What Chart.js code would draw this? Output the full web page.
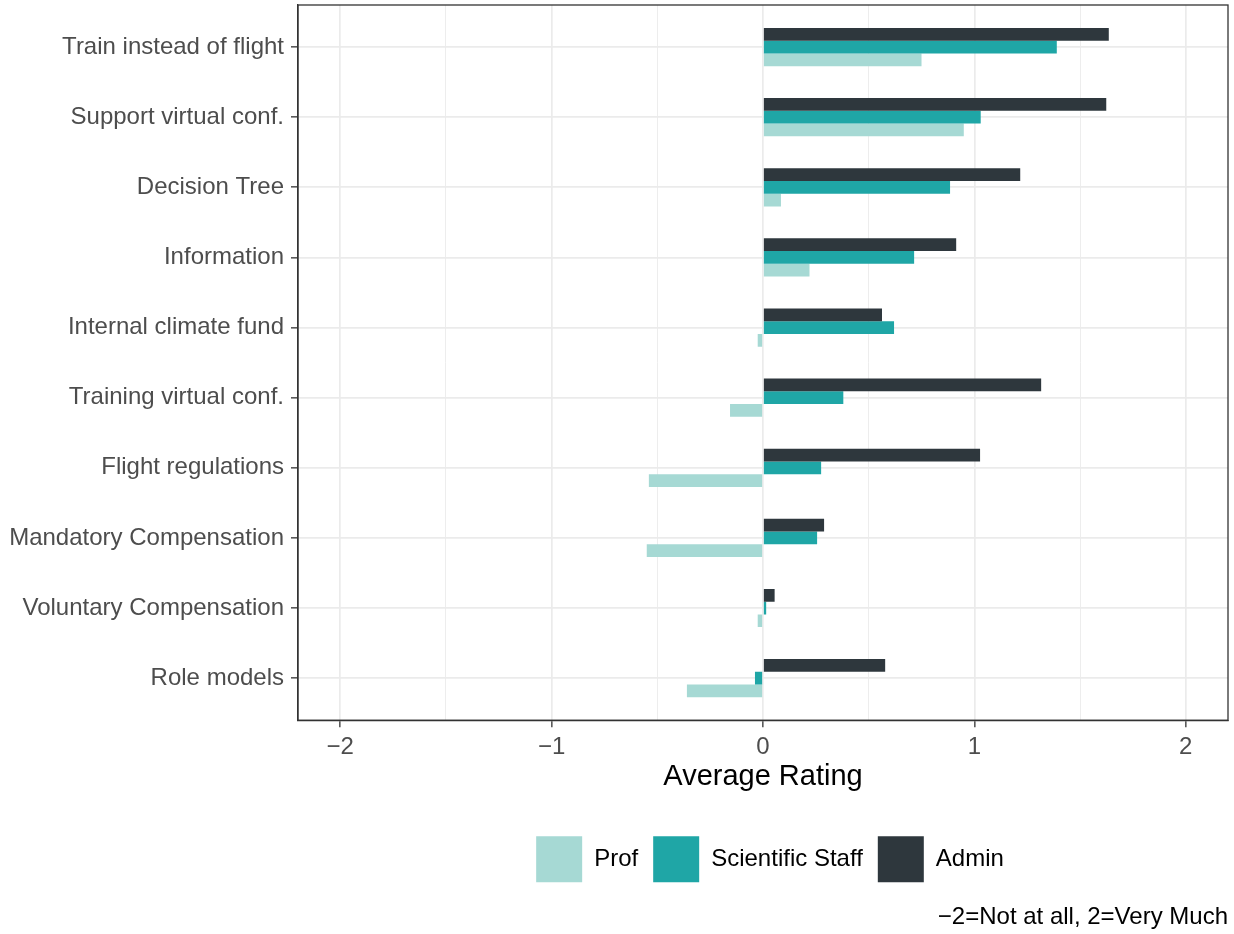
<!DOCTYPE html>
<html>
<head>
<meta charset="utf-8">
<script src="https://cdn.jsdelivr.net/npm/chart.js@4.4.1/dist/chart.umd.min.js"></script>
<style>
  html, body { margin: 0; padding: 0; background: #fff; }
  #wrap { width: 1234px; height: 934px; }
</style>
</head>
<body>
<div id="wrap"><canvas id="myChart"></canvas></div>
<script>
// categories top to bottom
const categories = [
  "Train instead of flight",
  "Support virtual conf.",
  "Decision Tree",
  "Information",
  "Internal climate fund",
  "Training virtual conf.",
  "Flight regulations",
  "Mandatory Compensation",
  "Voluntary Compensation",
  "Role models"
];
const profValues  = [0.75, 0.95, 0.085, 0.22, -0.025, -0.156, -0.54, -0.55, -0.025, -0.36];
const staffValues = [1.39, 1.03, 0.885, 0.715, 0.62, 0.38, 0.275, 0.256, 0.015, -0.038];
const adminValues = [1.636, 1.624, 1.217, 0.914, 0.563, 1.316, 1.027, 0.289, 0.055, 0.578];
const xTicks = [-2, -1.5, -1, -0.5, 0, 0.5, 1, 1.5, 2];

const textCol = "#4d4d4d";
const gridCol = "#ebebeb";
const frameCol = "#333333";

Chart.defaults.font.family = "'Liberation Sans', Arial, sans-serif";

function toPoints(vals) {
  return vals.map((v, i) => ({ x: v, y: i + 1 }));
}

const data = {
  datasets: [
    { label: "Admin", data: toPoints(adminValues), backgroundColor: "#2e373d" },
    { label: "Scientific Staff", data: toPoints(staffValues), backgroundColor: "#1fa6a6" },
    { label: "Prof", data: toPoints(profValues), backgroundColor: "#a6d9d4" }
  ]
};

// panel border + move legend under the panel centre
const frame = {
  id: "frame",
  afterLayout(chart) {
    const a = chart.chartArea;
    const lg = chart.legend;
    if (lg && lg.lineWidths && lg.lineWidths.length) {
      const target = (a.left + a.right) / 2 + 7 - lg.lineWidths[0] / 2;
      const cur = lg.left + (lg.width - lg.lineWidths[0]) / 2;
      const d = target - cur;
      lg.left += d;
      lg.right += d;
    }
  },
  afterDraw(chart) {
    const a = chart.chartArea;
    const ctx = chart.ctx;
    ctx.save();
    ctx.strokeStyle = frameCol;
    ctx.lineWidth = 1.3;
    ctx.strokeRect(a.left, a.top, a.right - a.left, a.bottom - a.top);
    ctx.restore();
  }
};

const config = {
  type: "bar",
  data: data,
  plugins: [frame],
  options: {
    indexAxis: "y",
    responsive: true,
    maintainAspectRatio: false,
    animation: false,
    categoryPercentage: 0.545,
    barPercentage: 1.0,
    layout: { padding: { top: 5, right: 6, left: 0, bottom: 0 } },
    scales: {
      x: {
        type: "linear",
        min: -2.2,
        max: 2.2,
        afterBuildTicks(scale) {
          scale.ticks = xTicks.map(v => ({ value: v }));
        },
        afterFit(scale) {
          scale.height = 101;
          scale.paddingLeft = 0;
          scale.paddingRight = 0;
        },
        ticks: {
          color: textCol,
          font: { size: 24 },
          padding: 6,
          autoSkip: false,
          maxRotation: 0,
          callback: v => Number.isInteger(v) ? (v < 0 ? "\u2212" + Math.abs(v) : String(v)) : ""
        },
        grid: {
          color: gridCol,
          lineWidth: c => Number.isInteger(c.tick && c.tick.value) ? 1.7 : 0.9,
          drawTicks: true,
          tickLength: 7,
          tickWidth: 1.3,
          tickColor: c => Number.isInteger(c.tick && c.tick.value) ? frameCol : "rgba(0,0,0,0)"
        },
        border: { display: true, color: frameCol, width: 1.3 },
        title: {
          display: true,
          text: "Average Rating",
          color: "#000",
          font: { size: 29 },
          padding: { top: 0, bottom: 27 }
        }
      },
      y: {
        type: "linear",
        reverse: true,
        offset: false,
        min: 0.4,
        max: 10.6,
        afterBuildTicks(scale) {
          scale.ticks = categories.map((c, i) => ({ value: i + 1 }));
        },
        afterFit(scale) {
          scale.width = 298;
          scale.paddingTop = 0;
          scale.paddingBottom = 0;
        },
        ticks: {
          color: textCol,
          font: { size: 24 },
          padding: 7,
          autoSkip: false,
          callback: v => categories[v - 1]
        },
        grid: {
          offset: false,
          color: gridCol,
          lineWidth: 1.7,
          drawTicks: true,
          tickLength: 7,
          tickWidth: 1.3,
          tickColor: frameCol
        },
        border: { display: true, color: frameCol, width: 1.3 }
      }
    },
    plugins: {
      legend: {
        position: "bottom",
        reverse: true,
        labels: {
          color: "#000",
          font: { size: 24 },
          boxWidth: 46,
          boxHeight: 46,
          padding: 15
        }
      },
      subtitle: {
        display: true,
        position: "bottom",
        align: "end",
        text: "\u22122=Not at all, 2=Very Much",
        color: "#000",
        font: { size: 24, weight: "normal" },
        padding: { top: 11, bottom: 2 }
      },
      tooltip: { enabled: false }
    }
  }
};

new Chart(document.getElementById("myChart"), config);
</script>
</body>
</html>
